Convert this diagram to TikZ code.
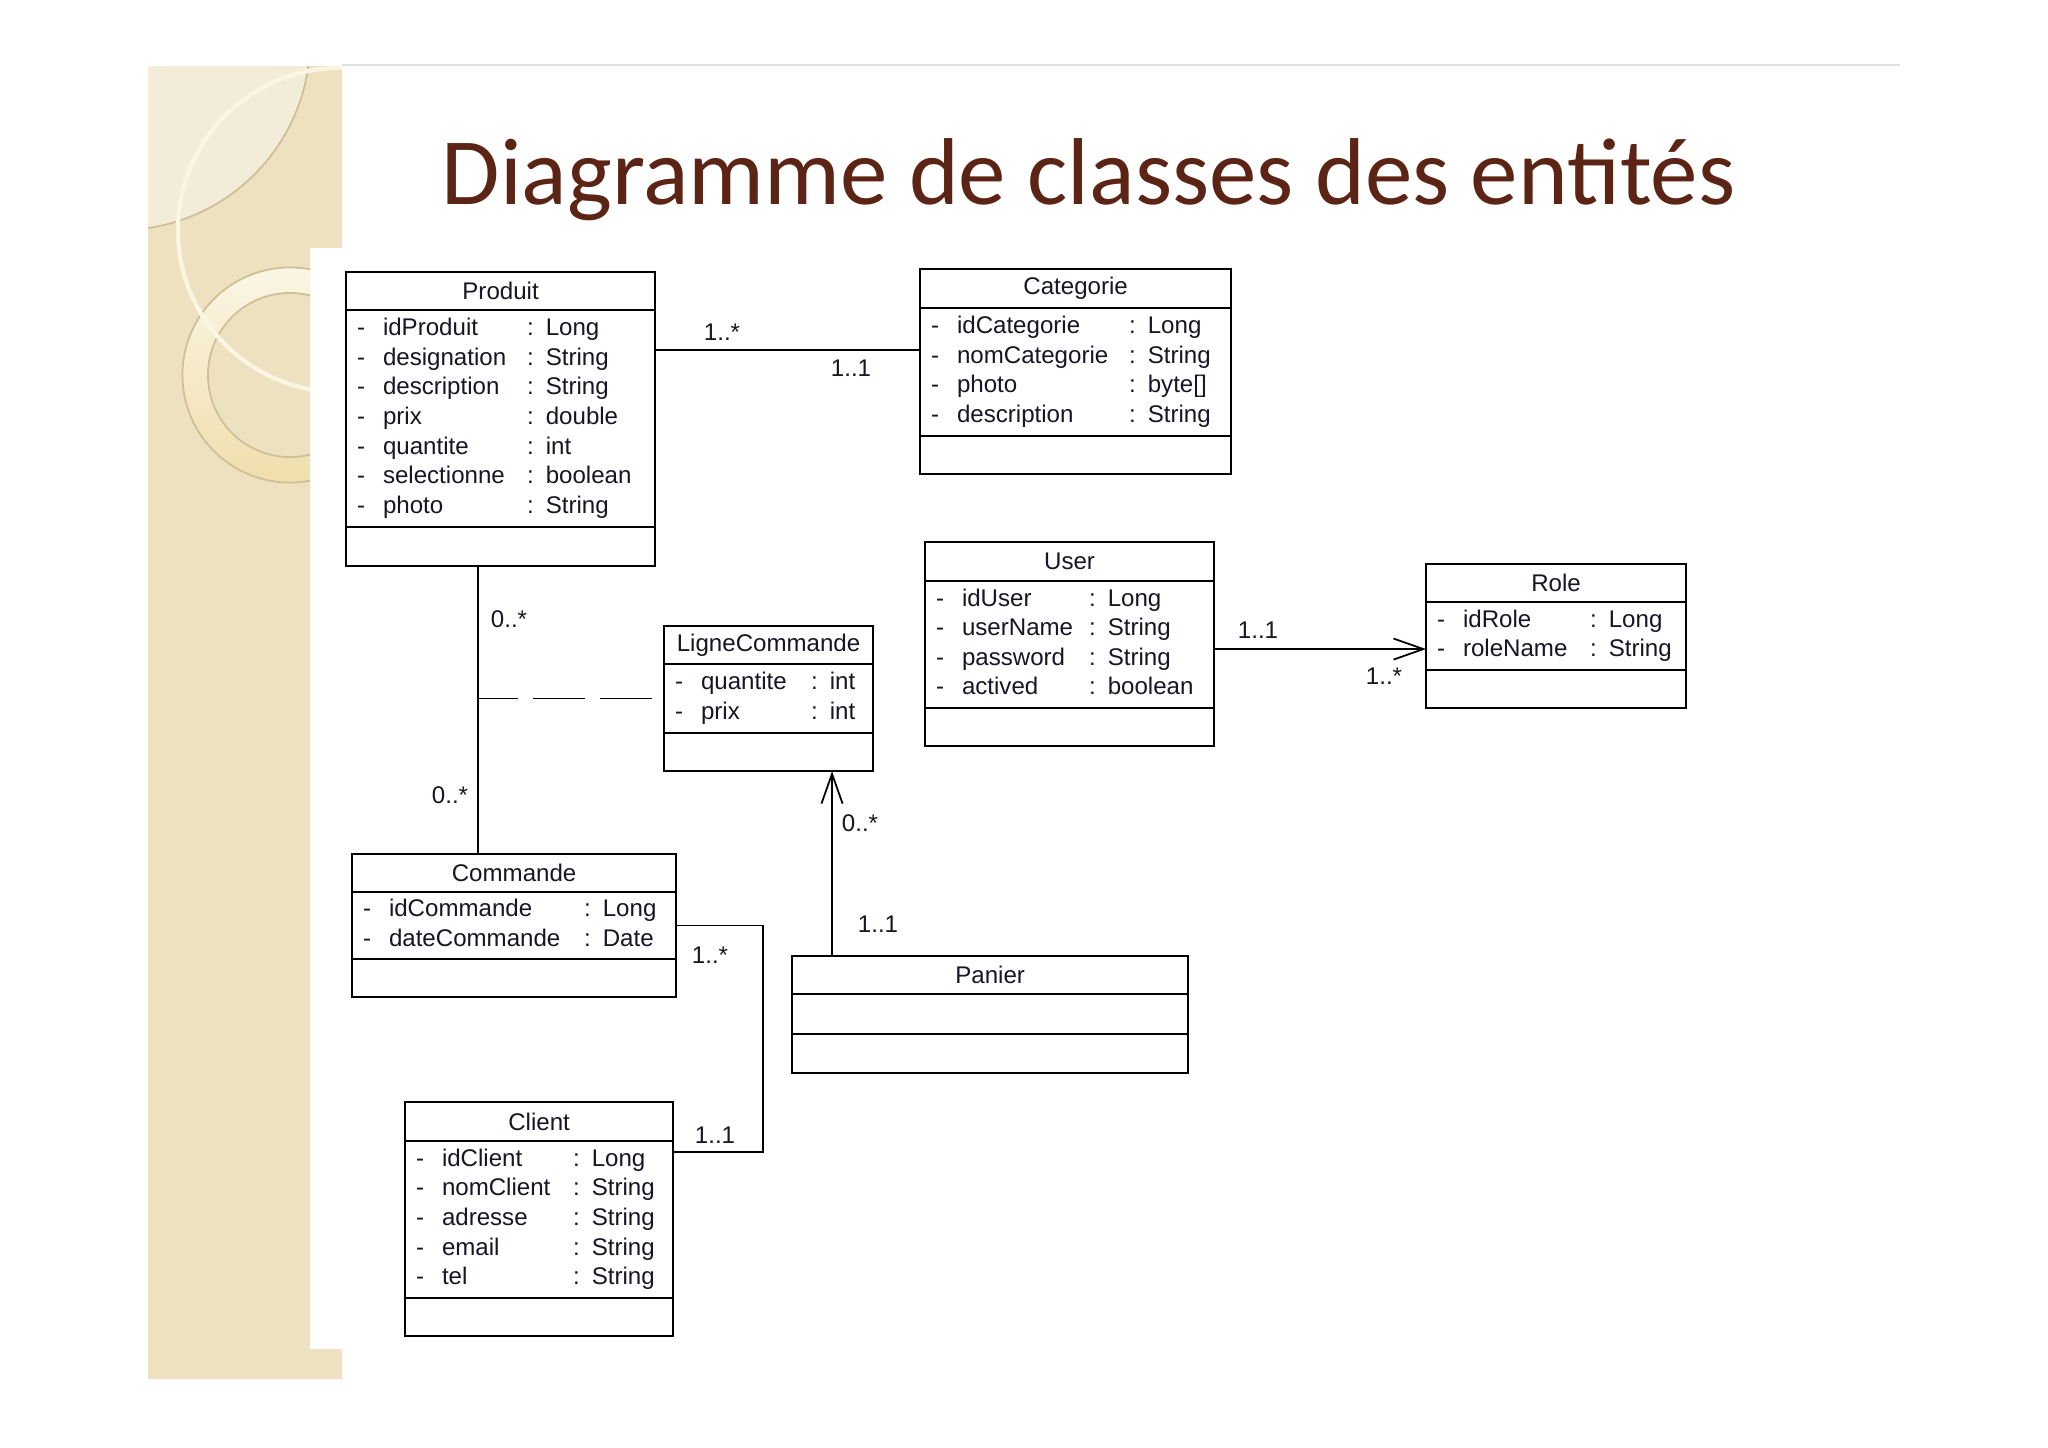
\documentclass[tikz,border=0pt]{standalone}
\usepackage{fontspec}
\usetikzlibrary{positioning,arrows.meta}
\newfontfamily\umlfont{Liberation Sans}
\newfontfamily\titlefont{Carlito}
\definecolor{titrebrun}{RGB}{92,36,20}
\definecolor{beige}{RGB}{237,225,192}
\definecolor{beigeclair}{RGB}{243,236,216}
\definecolor{beigetrait}{RGB}{206,191,152}
\definecolor{creme}{RGB}{251,245,228}
\definecolor{anneau}{RGB}{240,222,172}
\definecolor{encre}{RGB}{22,22,38}
\newcommand\attrs[2]{\begin{tabular}{@{}p{0.26cm}@{}p{#1}@{}l@{}}#2\end{tabular}}
\tikzset{
  classhead/.style={draw, line width=0.6pt, inner sep=0pt, outer sep=0pt, minimum height=0.38cm,
    font=\umlfont\fontsize{6.85}{8.4}\selectfont, text=encre},
  classbody/.style={draw, line width=0.6pt, inner xsep=0.11cm, inner ysep=0pt, outer sep=0pt,
    font=\umlfont\fontsize{6.85}{8.4}\selectfont, text=encre, align=left},
  multlabel/.style={font=\umlfont\fontsize{6.85}{8.4}\selectfont, text=encre, inner sep=0pt},
  assoc/.style={line width=0.5pt},
  nav/.style={line width=0.5pt, -{Straight Barb[length=8.5pt,width=6pt]}},
}
\begin{document}
\begin{tikzpicture}[x=0.01cm, y=-0.01cm]
    \useasboundingbox (0,0) rectangle (2048,1447);
    % 背景
    \fill[white] (0,0) rectangle (2048,1447);
    \draw[black!12, line width=0.4pt] (342,65) -- (1900,65);
    \fill[beige] (148,66) -- (342,66) -- (342,248) -- (310,248) -- (310,1349)
        -- (342,1349) -- (342,1379) -- (148,1379) -- cycle;
    \begin{scope}
        \clip (148,66) -- (342,66) -- (342,248) -- (310,248) -- (310,1349)
            -- (342,1349) -- (342,1379) -- (148,1379) -- cycle;
        \fill[beigeclair] (120,40) circle (1.9cm);
        \draw[beigetrait, line width=0.5pt] (120,40) circle (1.9cm);
        \shade[top color=creme, bottom color=anneau, even odd rule]
            (290,375) circle (1.075cm) (290,375) circle (0.82cm);
        \draw[beigetrait, line width=0.5pt] (290,375) circle (1.075cm) (290,375) circle (0.82cm);
        \draw[creme, line width=1.2pt] (340,230) circle (1.62cm);
    \end{scope}

    % 标题
    \node[anchor=base west, inner sep=0pt, text=titrebrun,
        font=\titlefont\fontsize{27}{30}\selectfont] (titre) at (441,204)
        {Diagramme de classes des entités};

    % Produit
    \node[classhead, minimum width=3.09cm, anchor=north west] (produit) at (346,272) {Produit};
    \node[classbody, minimum width=3.09cm, text width=2.87cm, minimum height=2.17cm,
        below=0pt of produit] (produit-att) {\attrs{1.44cm}{
        - & idProduit & : Long\\
        - & designation & : String\\
        - & description & : String\\
        - & prix & : double\\
        - & quantite & : int\\
        - & selectionne & : boolean\\
        - & photo & : String}};
    \node[classhead, minimum width=3.09cm, minimum height=0.39cm, below=0pt of produit-att] (produit-op) {};

    % Categorie
    \node[classhead, minimum width=3.11cm, minimum height=0.39cm, anchor=north west] (categorie) at (920,269) {Categorie};
    \node[classbody, minimum width=3.11cm, text width=2.89cm, minimum height=1.28cm,
        below=0pt of categorie] (categorie-att) {\attrs{1.72cm}{
        - & idCategorie & : Long\\
        - & nomCategorie & : String\\
        - & photo & : byte[]\\
        - & description & : String}};
    \node[classhead, minimum width=3.11cm, below=0pt of categorie-att] (categorie-op) {};

    % LigneCommande
    \node[classhead, minimum width=2.09cm, anchor=north west] (ligne) at (664,626) {LigneCommande};
    \node[classbody, minimum width=2.09cm, text width=1.87cm, minimum height=0.69cm,
        below=0pt of ligne] (ligne-att) {\attrs{1.10cm}{
        - & quantite & : int\\
        - & prix & : int}};
    \node[classhead, minimum width=2.09cm, below=0pt of ligne-att] (ligne-op) {};

    % User
    \node[classhead, minimum width=2.89cm, minimum height=0.39cm, anchor=north west] (user) at (925,542) {User};
    \node[classbody, minimum width=2.89cm, text width=2.67cm, minimum height=1.27cm,
        below=0pt of user] (user-att) {\attrs{1.27cm}{
        - & idUser & : Long\\
        - & userName & : String\\
        - & password & : String\\
        - & actived & : boolean}};
    \node[classhead, minimum width=2.89cm, below=0pt of user-att] (user-op) {};

    % Role
    \node[classhead, minimum width=2.60cm, anchor=north west] (role) at (1426,564) {Role};
    \node[classbody, minimum width=2.60cm, text width=2.38cm, minimum height=0.68cm,
        below=0pt of role] (role-att) {\attrs{1.27cm}{
        - & idRole & : Long\\
        - & roleName & : String}};
    \node[classhead, minimum width=2.60cm, below=0pt of role-att] (role-op) {};

    % Commande
    \node[classhead, minimum width=3.24cm, anchor=north west] (commande) at (352,854) {Commande};
    \node[classbody, minimum width=3.24cm, text width=3.02cm, minimum height=0.67cm,
        below=0pt of commande] (commande-att) {\attrs{1.95cm}{
        - & idCommande & : Long\\
        - & dateCommande & : Date}};
    \node[classhead, minimum width=3.24cm, below=0pt of commande-att] (commande-op) {};

    % Panier
    \node[classhead, minimum width=3.96cm, anchor=north west] (panier) at (792,956) {Panier};
    \node[classhead, minimum width=3.96cm, minimum height=0.40cm, below=0pt of panier] (panier-att) {};
    \node[classhead, minimum width=3.96cm, minimum height=0.39cm, below=0pt of panier-att] (panier-op) {};

    % Client
    \node[classhead, minimum width=2.68cm, minimum height=0.39cm, anchor=north west] (client) at (405,1102) {Client};
    \node[classbody, minimum width=2.68cm, text width=2.46cm, minimum height=1.57cm,
        below=0pt of client] (client-att) {\attrs{1.31cm}{
        - & idClient & : Long\\
        - & nomClient & : String\\
        - & adresse & : String\\
        - & email & : String\\
        - & tel & : String}};
    \node[classhead, minimum width=2.68cm, below=0pt of client-att] (client-op) {};

    % 关联
    \draw[assoc] ([yshift=-0.40cm]produit-att.north east) -- ([yshift=-0.42cm]categorie-att.north west);
    \coordinate (pc) at ([xshift=1.32cm]produit-op.south west);
    \draw[assoc] (pc) -- (pc |- commande.north);
    \draw[assoc, dash pattern=on 0.52cm off 0.15cm] ([xshift=-0.12cm]ligne-att.west) -- (pc |- ligne-att.west);
    \draw[assoc] (commande-att.east) -- ++(0.87cm,0) |- ([yshift=-0.11cm]client-att.north east);
    \coordinate (pl) at ([xshift=0.40cm]panier.north west);
    \draw[nav] (pl) -- (pl |- ligne-op.south);
    \coordinate (ur) at ([yshift=-0.47cm]role-att.north west);
    \draw[nav] (user-att.east |- ur) -- (ur);

    % 多重性
    \node[multlabel] (m-pc1) at (722,332) {1..*};
    \node[multlabel] (m-pc2) at (851,368) {1..1};
    \node[multlabel] (m-pl1) at (509,619) {0..*};
    \node[multlabel] (m-pl2) at (450,795) {0..*};
    \node[multlabel] (m-cc1) at (710,955) {1..*};
    \node[multlabel] (m-cc2) at (715,1135) {1..1};
    \node[multlabel] (m-pa1) at (860,823) {0..*};
    \node[multlabel] (m-pa2) at (878,924) {1..1};
    \node[multlabel] (m-ur1) at (1258,630) {1..1};
    \node[multlabel] (m-ur2) at (1384,676) {1..*};
\end{tikzpicture}
\end{document}
